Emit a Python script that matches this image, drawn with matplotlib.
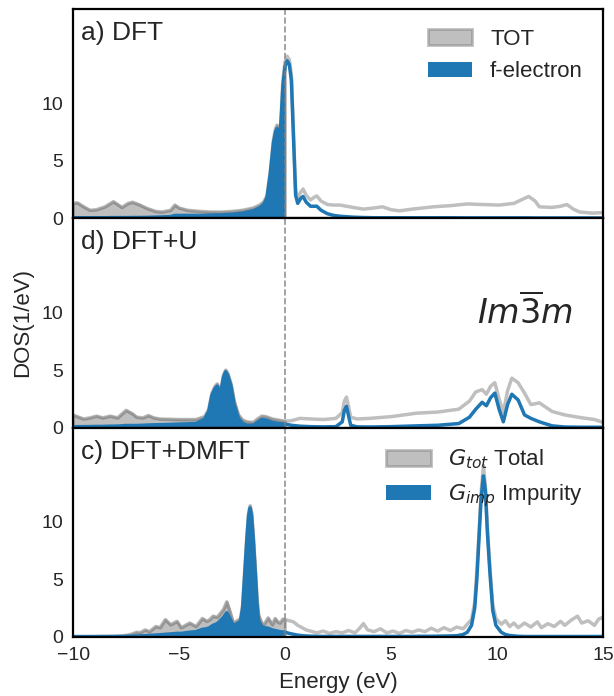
import numpy as np
import matplotlib
matplotlib.use("Agg")
import matplotlib.pyplot as plt

# ---- data ----
# a) DFT
E_a = [-10.0, -9.8, -9.5, -9.2, -8.9, -8.5, -8.1, -7.9, -7.7, -7.4,
       -7.2, -6.9, -6.5, -6.1, -5.8, -5.4, -5.2, -5.0, -4.6, -4.0,
       -3.5, -3.0, -2.5, -2.0, -1.5, -1.2, -1.0, -0.85, -0.7, -0.55,
       -0.45, -0.38, -0.3, -0.25, -0.18, -0.1, 0.0, 0.1, 0.2, 0.3,
       0.4, 0.5, 0.6, 0.75, 0.85, 1.0, 1.2, 1.35, 1.5, 1.7,
       2.0, 2.3, 2.6, 3.2, 3.7, 4.2, 4.6, 5.0, 5.4, 6.0,
       7.0, 7.8, 8.6, 9.3, 10.1, 10.8, 11.2, 11.5, 11.8, 12.0,
       12.6, 13.0, 13.3, 13.6, 13.9, 14.5, 15.0]
tot_a = [1.3, 1.35, 1.0, 0.7, 0.75, 1.0, 1.45, 1.2, 0.95, 1.3,
         1.4, 1.2, 0.85, 0.6, 0.55, 0.7, 1.15, 0.9, 0.7, 0.6,
         0.55, 0.55, 0.6, 0.7, 0.9, 1.15, 1.45, 2.0, 4.0, 6.8,
         7.8, 8.1, 7.6, 7.2, 9.0, 12.0, 13.6, 14.1, 13.8, 12.5,
         7.5, 2.5, 1.8, 2.3, 2.55, 2.0, 1.6, 1.8, 1.95, 1.5,
         1.2, 1.15, 1.15, 0.95, 0.8, 0.9, 1.0, 0.75, 0.65, 0.8,
         1.0, 1.1, 1.25, 1.2, 1.15, 1.3, 1.65, 1.9, 1.5, 1.0,
         0.95, 1.05, 1.2, 0.8, 0.55, 0.45, 0.5]
f_a = [0.05, 0.05, 0.05, 0.05, 0.05, 0.05, 0.06, 0.06, 0.06, 0.06,
       0.07, 0.07, 0.08, 0.1, 0.12, 0.15, 0.25, 0.25, 0.25, 0.25,
       0.28, 0.3, 0.35, 0.45, 0.65, 0.9, 1.2, 1.8, 3.8, 6.5,
       7.5, 7.8, 7.3, 6.9, 8.7, 11.5, 13.2, 13.7, 13.4, 12.0,
       7.0, 2.0, 1.3, 1.75, 1.9, 1.4, 1.05, 1.05, 1.05, 0.7,
       0.4, 0.25, 0.18, 0.1, 0.07, 0.05, 0.05, 0.05, 0.05, 0.05,
       0.05, 0.05, 0.04, 0.04, 0.04, 0.04, 0.04, 0.04, 0.03, 0.03,
       0.03, 0.03, 0.03, 0.03, 0.03, 0.03, 0.03]

# d) DFT+U
E_b = [-10.0, -9.8, -9.5, -9.2, -8.9, -8.6, -8.25, -7.9, -7.5, -7.2,
       -7.0, -6.7, -6.45, -6.2, -5.9, -5.0, -4.2, -3.8, -3.6, -3.45,
       -3.3, -3.2, -3.1, -3.0, -2.9, -2.8, -2.7, -2.55, -2.4, -2.2,
       -2.0, -1.8, -1.5, -1.3, -1.1, -0.9, -0.6, -0.3, 0.0, 0.3,
       0.7, 1.2, 1.8, 2.4, 2.7, 2.8, 2.9, 3.0, 3.1, 3.4,
       4.0, 5.0, 6.2, 7.2, 8.2, 8.7, 9.0, 9.3, 9.5, 9.7,
       9.9, 10.1, 10.3, 10.5, 10.7, 11.0, 11.3, 11.6, 12.0, 12.6,
       13.2, 14.0, 14.6, 15.0]
tot_b = [1.1, 0.95, 0.75, 0.85, 1.0, 0.85, 1.0, 0.85, 1.5, 1.2,
         0.9, 0.85, 1.05, 0.85, 0.75, 0.7, 0.7, 0.95, 1.6, 3.0,
         3.6, 3.8, 3.3, 3.6, 4.6, 5.0, 4.7, 3.8, 2.3, 1.1,
         0.65, 0.5, 0.45, 0.75, 1.0, 0.95, 0.75, 0.65, 0.55, 0.6,
         0.8, 0.75, 0.7, 0.8, 1.3, 2.3, 2.65, 1.8, 0.9, 0.75,
         0.8, 0.95, 1.25, 1.35, 1.6, 2.3, 3.1, 3.3, 2.9, 3.6,
         3.9, 2.5, 1.3, 3.2, 4.3, 3.9, 3.0, 2.0, 2.15, 1.4,
         1.1, 0.85, 0.7, 0.45]
f_b = [0.08, 0.08, 0.08, 0.09, 0.1, 0.1, 0.12, 0.13, 0.18, 0.18,
       0.18, 0.2, 0.22, 0.24, 0.25, 0.3, 0.35, 0.7, 1.4, 2.8,
       3.4, 3.6, 3.1, 3.4, 4.4, 4.85, 4.5, 3.6, 2.0, 0.8,
       0.35, 0.2, 0.2, 0.45, 0.7, 0.65, 0.45, 0.35, 0.3, 0.2,
       0.12, 0.08, 0.06, 0.08, 0.5, 1.5, 1.85, 1.0, 0.2, 0.06,
       0.05, 0.08, 0.15, 0.2, 0.35, 0.9, 1.6, 2.2, 1.9, 2.6,
       3.0, 1.6, 0.5, 2.0, 2.9, 2.4, 1.1, 0.8, 0.5, 0.15,
       0.05, 0.03, 0.03, 0.03]

# c) DFT+DMFT
E_c = [-10.0, -9.0, -8.0, -7.6, -7.3, -7.0, -6.85, -6.6, -6.4, -6.1,
       -5.9, -5.65, -5.4, -5.1, -4.9, -4.7, -4.5, -4.2, -3.9, -3.7,
       -3.55, -3.4, -3.2, -3.05, -2.9, -2.75, -2.6, -2.45, -2.3, -2.1,
       -2.0, -1.9, -1.8, -1.72, -1.65, -1.58, -1.5, -1.4, -1.32, -1.25,
       -1.1, -1.0, -0.8, -0.6, -0.47, -0.35, -0.24, -0.1, 0.0, 0.2,
       0.4, 0.6, 0.8, 1.0, 1.2, 1.5, 1.8, 2.1, 2.4, 2.7,
       3.0, 3.3, 3.5, 3.7, 3.9, 4.2, 4.5, 4.8, 5.1, 5.4,
       5.7, 6.0, 6.3, 6.6, 6.9, 7.2, 7.5, 7.8, 8.1, 8.4,
       8.6, 8.8, 8.95, 9.05, 9.15, 9.25, 9.36, 9.45, 9.55, 9.67,
       9.8, 9.95, 10.2, 10.4, 10.6, 10.8, 11.0, 11.3, 11.6, 11.9,
       12.1, 12.4, 12.7, 13.0, 13.2, 13.5, 13.8, 14.0, 14.3, 14.6,
       14.8, 15.0]
tot_c = [0.02, 0.03, 0.05, 0.1, 0.2, 0.4, 0.35, 0.6, 0.45, 0.9,
         0.8, 1.5, 1.05, 1.35, 0.8, 1.0, 1.2, 0.9, 1.6, 1.35,
         1.5, 1.8, 1.7, 2.05, 2.4, 3.05, 2.2, 1.25, 1.35, 1.6,
         2.8, 5.8, 8.8, 10.8, 11.4, 10.8, 8.8, 5.8, 3.2, 1.9,
         1.2, 1.05, 1.65, 1.05, 1.6, 1.3, 1.2, 1.55, 1.5, 1.4,
         1.3, 1.0, 0.8, 0.6, 0.5, 0.35, 0.5, 0.3, 0.45, 0.35,
         0.55, 0.35, 0.7, 1.15, 0.6, 0.45, 0.7, 0.35, 0.5, 0.3,
         0.55, 0.4, 0.6, 0.45, 0.75, 0.5, 0.8, 0.55, 0.85, 0.7,
         1.1, 1.5, 3.0, 5.8, 9.0, 12.5, 14.9, 13.2, 9.5, 6.0,
         2.8, 1.6, 1.1, 1.4, 0.9, 1.2, 0.8, 1.2, 0.85, 1.3,
         0.8, 1.15, 0.9, 1.35, 1.0, 1.45, 1.8, 1.2, 1.4, 1.0,
         1.55, 1.7]
f_c = [0.02, 0.02, 0.03, 0.04, 0.05, 0.07, 0.08, 0.1, 0.12, 0.15,
       0.18, 0.22, 0.25, 0.3, 0.3, 0.35, 0.4, 0.45, 0.65, 0.7,
       0.8, 1.0, 1.15, 1.4, 1.7, 2.1, 1.6, 1.0, 1.1, 1.35,
       2.5, 5.5, 8.5, 10.5, 11.2, 10.5, 8.5, 5.4, 2.8, 1.4,
       0.9, 0.8, 0.75, 0.6, 0.55, 0.5, 0.45, 0.42, 0.4, 0.3,
       0.22, 0.15, 0.1, 0.08, 0.06, 0.05, 0.04, 0.04, 0.04, 0.04,
       0.04, 0.04, 0.04, 0.04, 0.04, 0.04, 0.04, 0.04, 0.04, 0.04,
       0.04, 0.04, 0.05, 0.05, 0.05, 0.06, 0.07, 0.08, 0.1, 0.2,
       0.4, 1.0, 2.5, 5.0, 8.5, 12.0, 14.0, 12.8, 9.0, 5.5,
       2.3, 1.0, 0.4, 0.2, 0.12, 0.08, 0.05, 0.03, 0.03, 0.03,
       0.03, 0.03, 0.03, 0.03, 0.03, 0.03, 0.03, 0.03, 0.03, 0.03,
       0.03, 0.03]

panel_titles = ["a) DFT", "d) DFT+U", "c) DFT+DMFT"]
legend_a = ["TOT", "f-electron"]
legend_c = [r"$G_{tot}$ Total", r"$G_{imp}$ Impurity"]

# ---- style ----
plt.rcParams["font.family"] = ["Liberation Sans", "DejaVu Sans"]
plt.rcParams["text.color"] = "#262626"
plt.rcParams["axes.labelcolor"] = "#262626"
plt.rcParams["xtick.color"] = "#262626"
plt.rcParams["ytick.color"] = "#262626"
plt.rcParams["axes.edgecolor"] = "black"
plt.rcParams["axes.linewidth"] = 1.6


def draw_dos(ax, E, tot, f, labels=None):
    E = np.array(E)
    tot = np.array(tot)
    f = np.array(f)
    occ = E <= 0
    lab_t, lab_f = labels if labels else (None, None)
    ax.fill_between(E, tot, where=occ, color="gray", alpha=0.5, lw=2,
                    label=lab_t)
    ax.plot(E, tot, color="gray", alpha=0.5, lw=2.5)
    ax.fill_between(E, f, where=occ, color="#1f77b4", lw=0, label=lab_f)
    ax.plot(E, f, color="#1f77b4", lw=2.5)
    ax.axvline(0, color="gray", ls="--", lw=1.2, alpha=0.85)


fig, axes = plt.subplots(3, 1, sharex=True, figsize=(6.14, 6.96), dpi=100)
fig.subplots_adjust(left=0.119, right=0.982, top=0.987, bottom=0.085,
                    hspace=0)

draw_dos(axes[0], E_a, tot_a, f_a, legend_a)
draw_dos(axes[1], E_b, tot_b, f_b)
draw_dos(axes[2], E_c, tot_c, f_c, legend_c)

for ax, title in zip(axes, panel_titles):
    ax.set_xlim(-10, 15)
    ax.set_ylim(0, 18.2)
    ax.set_yticks([0, 5, 10])
    ax.tick_params(length=0, pad=7, labelsize=14)
    ax.text(0.015, 0.885, title, transform=ax.transAxes, fontsize=19,
            va="center", ha="left")

axes[0].legend(loc="upper right", frameon=False, fontsize=16)
axes[2].legend(loc="upper right", frameon=False, fontsize=16)

axes[1].text(11.3, 10.0, r"$Im\overline{3}m$", fontsize=24,
             ha="center", va="center")

axes[2].set_xticks([-10, -5, 0, 5, 10, 15])
axes[2].set_xlabel("Energy (eV)", fontsize=16, labelpad=6)
axes[1].set_ylabel("DOS(1/eV)", fontsize=16, labelpad=6)

fig.savefig("out.png", dpi=100)
